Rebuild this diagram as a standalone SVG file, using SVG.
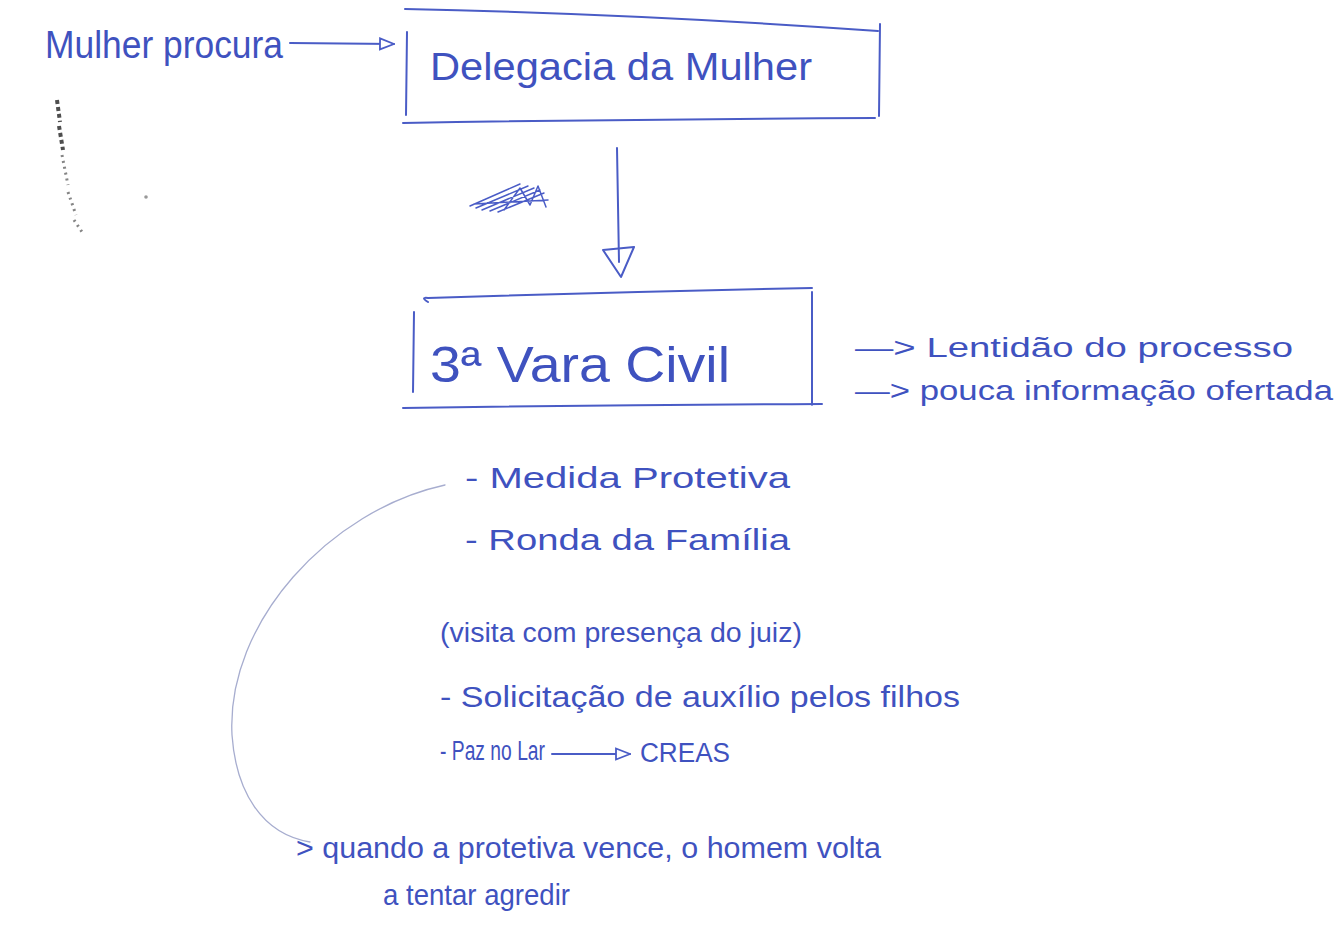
<svg xmlns="http://www.w3.org/2000/svg" width="1343" height="939" viewBox="0 0 1343 939">
<style>
.ink{fill:none;stroke:#4a5cc6;stroke-width:2;stroke-linecap:round;stroke-linejoin:round}
.thin{fill:none;stroke:#4a5cc6;stroke-width:1.5;stroke-linecap:round;stroke-linejoin:round}
.faint{fill:none;stroke:#a7adcf;stroke-width:1.3;stroke-linecap:round}
.t{font-family:"Liberation Sans",Arial,sans-serif;fill:#3f52bf}
.big{font-size:38px}
.mid{font-size:30px}
.sm{font-size:27px}
</style>
<defs>
<marker id="open" viewBox="0 0 16 14" refX="15" refY="7" markerWidth="16" markerHeight="14" markerUnits="userSpaceOnUse" orient="auto">
<path d="M1,1.5 L15,7 L1,12.5 Z" fill="#fff" stroke="#4a5cc6" stroke-width="1.8"/>
</marker>
</defs>
<rect width="1343" height="939" fill="#ffffff"/>

<g id="scan-marks">
<path d="M57,100 L60,122 M59,126 L63,150" fill="none" stroke="#222" stroke-width="4" stroke-dasharray="4 3" opacity="0.8"/>
<path d="M62,155 L68,185 M68,192 L76,215 M74,220 L82,232" fill="none" stroke="#333" stroke-width="3" stroke-dasharray="2 4" opacity="0.6"/>
<circle cx="146" cy="197" r="1.8" fill="#999"/>
</g>

<g id="scribble">
<path class="thin" d="M470,206 L520,184 M476,208 L528,186 M482,210 L534,188 M490,211 L540,190 M498,212 L544,193 M504,210 L520,188 L530,205 L538,186 L546,207 M474,204 L548,200"/>
</g>

<g id="mulher-procura">
<text class="t big" x="45" y="58" textLength="238" lengthAdjust="spacingAndGlyphs">Mulher procura</text>
</g>

<g id="delegacia">
<path class="ink" d="M405,9 Q640,14 878,31 M407,32 L406,115 M880,24 L879,116 M403,123 Q640,119 875,118"/>
<text class="t big" x="430" y="80" textLength="382" lengthAdjust="spacingAndGlyphs">Delegacia da Mulher</text>
</g>

<g id="vara-civil">
<path class="ink" d="M428,302 Q420,297 428,298 Q620,292 812,288 M414,312 L413,392 M812,292 L812,405 M403,408 Q610,405 822,404"/>
<text class="t" x="430" y="382" font-size="50" textLength="300" lengthAdjust="spacingAndGlyphs">3ª Vara Civil</text>
</g>

<g id="notes">
<text class="t sm" x="855" y="357" textLength="438" lengthAdjust="spacingAndGlyphs">—&gt; Lentidão do processo</text>
<text class="t sm" x="855" y="400" textLength="478" lengthAdjust="spacingAndGlyphs">—&gt; pouca informação ofertada</text>
</g>

<g id="medidas">
<text class="t mid" x="465" y="488" textLength="325" lengthAdjust="spacingAndGlyphs">- Medida Protetiva</text>
<text class="t mid" x="465" y="550" textLength="325" lengthAdjust="spacingAndGlyphs">- Ronda da Família</text>
<text class="t sm" x="440" y="642" textLength="362" lengthAdjust="spacingAndGlyphs">(visita com presença do juiz)</text>
<text class="t mid" x="440" y="707" textLength="520" lengthAdjust="spacingAndGlyphs">- Solicitação de auxílio pelos filhos</text>
<text class="t sm" x="440" y="760" textLength="105" lengthAdjust="spacingAndGlyphs">- Paz no Lar</text>
<text class="t sm" x="640" y="762" textLength="90" lengthAdjust="spacingAndGlyphs">CREAS</text>
</g>

<g id="consequencia">
<text class="t mid" x="296" y="858" textLength="585" lengthAdjust="spacingAndGlyphs">&gt; quando a protetiva vence, o homem volta</text>
<text class="t mid" x="383" y="905" textLength="187" lengthAdjust="spacingAndGlyphs">a tentar agredir</text>
</g>

<g id="connectors">
<path class="ink" d="M290,43 L394,44" marker-end="url(#open)"/>
<path class="ink" d="M617,148 L619,262"/>
<path class="ink" d="M603,250 L621,277 L634,247 Z" fill="#fff"/>
<path class="ink" d="M552,754 L630,754" marker-end="url(#open)"/>
<path class="faint" d="M445,485 C330,510 226,622 232,735 C236,792 262,834 310,842"/>
</g>
</svg>
